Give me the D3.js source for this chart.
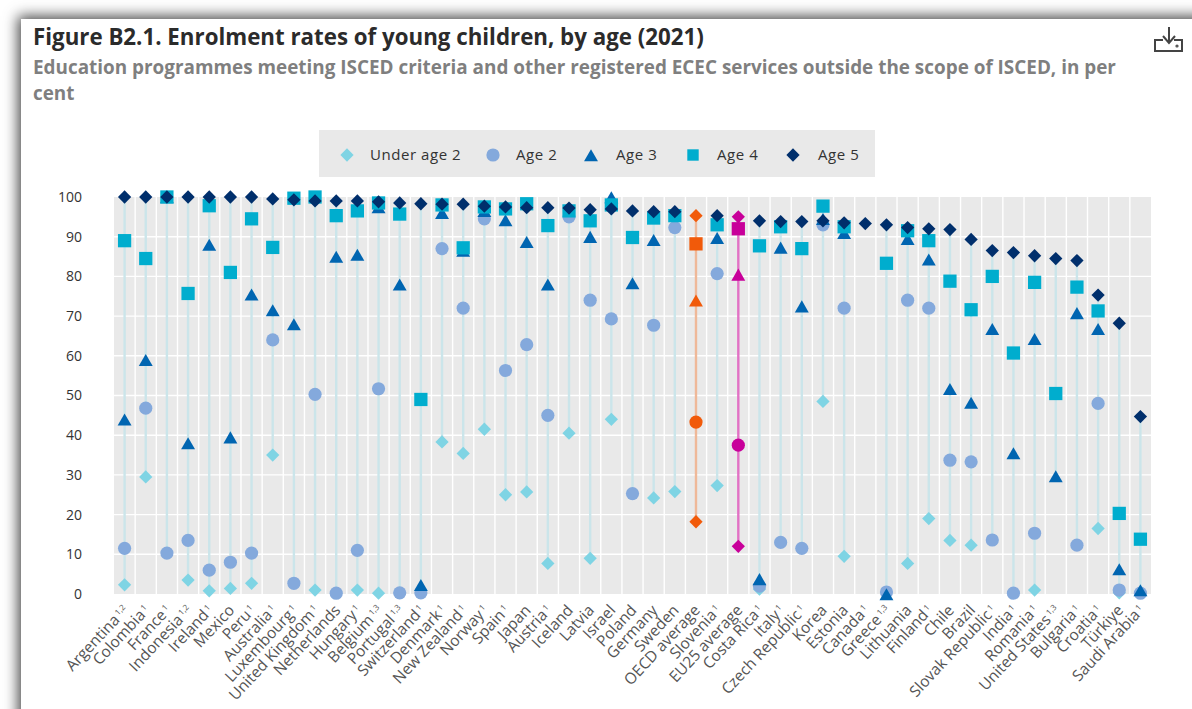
<!DOCTYPE html>
<html>
<head>
<meta charset="utf-8">
<script src="https://cdn.jsdelivr.net/npm/d3@7"></script>
<style>
    html, body { margin: 0; padding: 0; background: #fff; overflow: hidden; }
    #panel { position: absolute; left: 21px; top: 19px; width: 1300px; height: 800px; background: #fff;
             box-shadow: 0 0 13px 3px rgba(0, 0, 0, .72); }
    svg { position: absolute; left: 0; top: 0; font-family: "Open Sans", sans-serif; }
</style>
</head>
<body>
<div id="panel"></div>
<svg width="1192" height="709"></svg>
<script>
var title = "Figure B2.1. Enrolment rates of young children, by age (2021)";
var subtitle = ["Education programmes meeting ISCED criteria and other registered ECEC services outside the scope of ISCED, in per", "cent"];

var countries = ["Argentina", "Colombia", "France", "Indonesia", "Ireland", "Mexico", "Peru", "Australia", "Luxembourg", "United Kingdom",
    "Netherlands", "Hungary", "Belgium", "Portugal", "Switzerland", "Denmark", "New Zealand", "Norway", "Spain", "Japan",
    "Austria", "Iceland", "Latvia", "Israel", "Poland", "Germany", "Sweden", "OECD average", "Slovenia", "EU25 average",
    "Costa Rica", "Italy", "Czech Republic", "Korea", "Estonia", "Canada", "Greece", "Lithuania", "Finland", "Chile",
    "Brazil", "Slovak Republic", "India", "Romania", "United States", "Bulgaria", "Croatia", "Türkiye", "Saudi Arabia"];

var notes = ["1,2", "1", "1", "1,2", "1", "", "1", "1", "1", "1",
    "", "1", "1,3", "1,3", "1", "1", "1", "1", "1", "",
    "1", "", "", "", "", "", "", "", "1", "",
    "1", "1", "1", "", "", "1", "1,3", "", "1", "",
    "", "1", "1", "1", "1,3", "1", "1", "", "1"];

var under2 = [2.3, 29.5, null, 3.5, 0.8, 1.4, 2.7, 35, null, 1,
    null, 1, 0.2, null, null, 38.3, 35.4, 41.5, 25, 25.7,
    7.7, 40.5, 9, 44, null, 24.2, 25.8, 18.2, 27.3, 12,
    1.2, null, null, 48.5, 9.5, null, null, 7.7, 19, 13.5,
    12.3, null, null, 1, null, null, 16.5, 0.3, null];

var age2 = [11.5, 46.8, 10.3, 13.5, 6, 8, 10.3, 64, 2.7, 50.3,
    0.2, 11, 51.7, 0.3, 0.3, 87, 72, 94.5, 56.3, 62.8,
    45, 95, 74, 69.3, 25.3, 67.7, 92.3, 43.3, 80.7, 37.5,
    2, 13, 11.5, 93, 72, null, 0.5, 74, 72, 33.7,
    33.3, 13.6, 0.2, 15.3, null, 12.3, 48, 1, 0.2];

var age3 = [44, 59, 100, 38, 88, 39.5, 75.5, 71.5, 68, null,
    85, 85.5, 97.5, 78, 2.3, 96, 86.5, 96.5, 94.2, 88.7,
    78, null, 90, 100, 78.3, 89.2, null, 74, 89.7, 80.5,
    3.8, 87.3, 72.5, 94.5, 91, null, 0, 89.5, 84.3, 51.7,
    48.2, 66.8, 35.5, 64.3, 29.7, 70.8, 66.8, 6.3, 1];

var age4 = [89, 84.5, 100, 75.7, 97.8, 81, 94.5, 87.3, 99.7, 100,
    95.3, 96.5, 98.5, 95.7, 49, 98, 87.2, 97.5, 97, 98.3,
    92.8, 96.5, 94, 98, 89.8, 94.7, 95.3, 88.2, 93, 92,
    87.7, 92.5, 87, 97.7, 92.5, null, 83.3, 91.5, 89, 78.8,
    71.6, 80, 60.7, 78.5, 50.5, 77.3, 71.3, 20.3, 13.8];

var age5 = [100, 100, 100, 100, 100, 100, 100, 99.5, 99.3, 99,
    99, 99, 98.8, 98.5, 98.3, 98.2, 98.2, 97.7, 97.5, 97.3,
    97.3, 97.2, 96.8, 97, 96.5, 96.3, 96.3, 95.3, 95.3, 95,
    94, 93.8, 93.8, 94, 93.5, 93.3, 93, 92.3, 92, 91.8,
    89.3, 86.5, 86, 85.2, 84.5, 84, 75.3, 68.2, 44.7];

var yTicks = [0, 10, 20, 30, 40, 50, 60, 70, 80, 90, 100];

// drawn in this order, age 5 ends up on top
var series = [
    { name: "Under age 2", values: under2, symbol: "diamond", color: "#7fd4e4", lx: 347, tx: 370 },
    { name: "Age 2", values: age2, symbol: "circle", color: "#84a9dc", lx: 493, tx: 516 },
    { name: "Age 3", values: age3, symbol: "triangle", color: "#0065b1", lx: 591, tx: 616 },
    { name: "Age 4", values: age4, symbol: "square", color: "#00adce", lx: 693, tx: 717 },
    { name: "Age 5", values: age5, symbol: "diamond", color: "#002f6c", lx: 793, tx: 818 }
];

var highlight = {
    "OECD average": { mark: "#f15a0a", stem: "#efb898" },
    "EU25 average": { mark: "#c8009a", stem: "#e271c5" }
};

var svg = d3.select("svg");
var left = 114, right = 1151, top_ = 197, bottom = 594;

var x = d3.scaleBand().domain(countries).range([left, right]);
var y = d3.scaleLinear().domain([0, 100]).range([bottom, top_]);

function symbolPath(name) {
    if (name == "circle") return d3.symbol(d3.symbolCircle, 137)();
    if (name == "triangle") return d3.symbol(d3.symbolTriangle, 84)();
    if (name == "square") return d3.symbol(d3.symbolSquare, 176)();
    return d3.symbol(d3.symbolSquare, 88)();
}

function place(name, px, py) {
    // d3 centres the triangle on its centroid, the chart centres it on its box
    if (name == "triangle") py += 2.2;
    var t = "translate(" + px + "," + py + ")";
    return name == "diamond" ? t + " rotate(45)" : t;
}

// header
svg.append("text").attr("x", 33).attr("y", 45)
    .attr("font-size", 22.3).attr("font-weight", 700).attr("fill", "#2b2b2b").text(title);
svg.selectAll(".sub").data(subtitle).enter().append("text")
    .attr("class", "sub").attr("x", 33).attr("y", function (d, i) { return 74 + i * 26; })
    .attr("font-size", 18.9).attr("font-weight", 700).attr("fill", "#7f7f7f").text(function (d) { return d; });

// download icon
var icon = svg.append("g").attr("fill", "none").attr("stroke", "#444").attr("stroke-width", 2);
icon.append("path").attr("d", "M1163 40H1155V51H1182V40H1174");
icon.append("path").attr("d", "M1169 27V42M1163 36L1169 43L1175 36");
icon.append("circle").attr("cx", 1177).attr("cy", 46).attr("r", 0.6);

// legend
svg.append("rect").attr("x", 319).attr("y", 130).attr("width", 556).attr("height", 47).attr("fill", "#e9e9e9");
var legend = svg.selectAll(".legend").data(series).enter().append("g").attr("class", "legend");
legend.append("path")
    .attr("d", function (d) { return d.symbol == "square" ? d3.symbol(d3.symbolSquare, 130)() : symbolPath(d.symbol); })
    .attr("transform", function (d) { return place(d.symbol, d.lx, 155); })
    .attr("fill", function (d) { return d.color; });
legend.append("text").attr("x", function (d) { return d.tx; }).attr("y", 160)
    .attr("font-size", 15).attr("letter-spacing", 0.55).attr("fill", "#333").text(function (d) { return d.name; });

// plot background and grid
svg.append("rect").attr("x", left).attr("y", top_).attr("width", right - left).attr("height", bottom - top_).attr("fill", "#e9e9e9");
svg.selectAll(".hgrid").data(yTicks.slice(1, -1)).enter().append("line").attr("class", "hgrid")
    .attr("x1", left).attr("x2", right)
    .attr("y1", function (d) { return y(d); }).attr("y2", function (d) { return y(d); })
    .attr("stroke", "#fff").attr("stroke-width", 1.4);
svg.selectAll(".vgrid").data(countries.slice(1)).enter().append("line").attr("class", "vgrid")
    .attr("x1", function (d) { return x(d); }).attr("x2", function (d) { return x(d); })
    .attr("y1", top_).attr("y2", bottom)
    .attr("stroke", "#fff").attr("stroke-width", 1.4);

// axes
var yAxis = svg.append("g").attr("transform", "translate(" + left + ",0)")
    .call(d3.axisLeft(y).tickValues(yTicks).tickSize(0).tickPadding(32));
yAxis.select(".domain").remove();
yAxis.selectAll("text").attr("font-size", 14).attr("font-family", "'Open Sans', sans-serif").attr("fill", "#333");

var xAxis = svg.append("g").attr("transform", "translate(0," + bottom + ")")
    .call(d3.axisBottom(x).tickSize(0).tickPadding(0));
xAxis.select(".domain").remove();
xAxis.selectAll("text")
    .attr("font-size", 15.5).attr("font-family", "'Open Sans', sans-serif").attr("fill", "#555")
    .attr("text-anchor", "end").attr("dy", 0).attr("y", 0)
    .attr("transform", "translate(5,17) rotate(-47)")
    .each(function (d, i) {
        if (notes[i]) {
            d3.select(this).append("tspan").attr("dy", -5).attr("dx", 2).attr("font-size", 8).text(notes[i]);
        }
    });

// stems between lowest and highest value of each country
var stems = countries.map(function (c, i) {
    var vals = series.map(function (s) { return s.values[i]; }).filter(function (v) { return v != null; });
    return { name: c, lo: d3.min(vals), hi: d3.max(vals) };
});
svg.selectAll(".stem").data(stems).enter().append("line").attr("class", "stem")
    .attr("x1", function (d) { return x(d.name) + x.bandwidth() / 2; })
    .attr("x2", function (d) { return x(d.name) + x.bandwidth() / 2; })
    .attr("y1", function (d) { return y(d.lo); }).attr("y2", function (d) { return y(d.hi); })
    .attr("stroke", function (d) { return highlight[d.name] ? highlight[d.name].stem : "#cbe5ea"; })
    .attr("stroke-width", 2.4);

// markers
series.forEach(function (s) {
    var pts = countries.map(function (c, i) { return { name: c, v: s.values[i] }; })
        .filter(function (d) { return d.v != null; });
    svg.append("g").selectAll("path").data(pts).enter().append("path")
        .attr("d", symbolPath(s.symbol))
        .attr("transform", function (d) { return place(s.symbol, x(d.name) + x.bandwidth() / 2, y(d.v)); })
        .attr("fill", function (d) { return highlight[d.name] ? highlight[d.name].mark : s.color; });
});
</script>
</body>
</html>
